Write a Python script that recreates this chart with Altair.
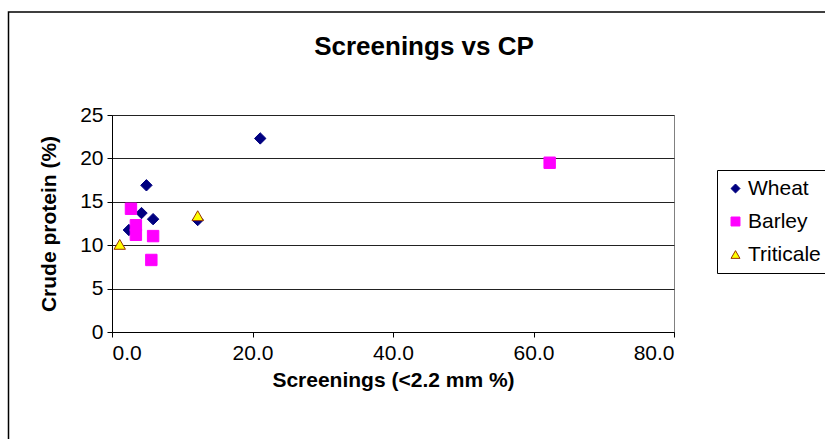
import altair as alt
import pandas as pd

# Data
wheat_x = [21.1, 4.9, 4.2, 5.85, 2.4, 12.2]
wheat_y = [22.3, 16.9, 13.7, 13.0, 11.75, 12.9]
barley_x = [62.3, 2.7, 3.4, 3.4, 5.85, 5.6]
barley_y = [19.5, 14.2, 12.3, 11.2, 11.05, 8.3]
triticale_x = [1.1, 12.2]
triticale_y = [10.1, 13.4]

series = ["Wheat", "Barley", "Triticale"]
x_ticks = [0, 20, 40, 60, 80]
y_ticks = [0, 5, 10, 15, 20, 25]

rows = []
for name, xs, ys in [("Wheat", wheat_x, wheat_y), ("Barley", barley_x, barley_y),
                     ("Triticale", triticale_x, triticale_y)]:
    for a, b in zip(xs, ys):
        rows.append({"Crop": name, "Screenings": a, "CP": b})
df = pd.DataFrame(rows)

FONT = "Liberation Sans"
W, H = 562, 217
PL, PT = 112, 115

legend = alt.Legend(
    title=None, orient="none", legendX=605, legendY=55,
    labelFontSize=21, labelFont=FONT, labelColor="black",
    symbolSize=80, symbolStrokeWidth=1, rowPadding=11,
    padding=8, strokeColor="black", labelOffset=2,
)

points = alt.Chart(df).mark_point(filled=True, size=130, opacity=1, strokeWidth=1).encode(
    x=alt.X("Screenings:Q", scale=alt.Scale(domain=[0, 80], nice=False),
            axis=alt.Axis(values=x_ticks, format=".1f", title="Screenings (<2.2 mm %)",
                          grid=False, titlePadding=6, labelPadding=5)),
    y=alt.Y("CP:Q", scale=alt.Scale(domain=[0, 25], nice=False),
            axis=alt.Axis(values=y_ticks, format="d", title="Crude protein (%)",
                          grid=True, titlePadding=20, labelPadding=4)),
    shape=alt.Shape("Crop:N", scale=alt.Scale(domain=series,
                    range=["diamond", "square", "triangle-up"]), legend=legend),
    color=alt.Color("Crop:N", scale=alt.Scale(domain=series,
                    range=["#000080", "#FF00FF", "#FFFF00"]), legend=legend),
    stroke=alt.Stroke("Crop:N", scale=alt.Scale(domain=series,
                      range=["#000080", "#FF00FF", "#993300"]), legend=legend),
    order=alt.Order("idx:Q"),
).transform_window(idx="row_number()")

title = alt.Chart(alt.Data(values=[{"t": "Screenings vs CP"}])).mark_text(
    font=FONT, fontSize=26, fontWeight="bold", color="black", baseline="middle", align="center"
).encode(text="t:N", x=alt.value(424 - PL), y=alt.value(47 - PT))

border = alt.Chart(alt.Data(values=[{"a": 1}])).mark_rect(
    fillOpacity=0, stroke="black", strokeWidth=1.5
).encode(x=alt.value(8.5 - PL), y=alt.value(12 - PT), x2=alt.value(840 - PL), y2=alt.value(450 - PT))

chart = alt.layer(border, points, title).properties(
    width=W, height=H,
    autosize=alt.AutoSizeParams(type="none"),
    padding={"left": PL, "top": PT, "right": 825 - PL - W, "bottom": 439 - PT - H},
).configure_view(stroke="#808080", strokeWidth=1).configure_axis(
    labelFont=FONT, titleFont=FONT, labelFontSize=21, titleFontSize=21,
    labelColor="black", titleColor="black", titleFontWeight="bold",
    domainColor="black", tickColor="black", tickSize=5, gridColor="#222222",
    gridWidth=1, domainWidth=1,
)

chart.save("out.html", embed_options={"renderer": "svg", "actions": False})
